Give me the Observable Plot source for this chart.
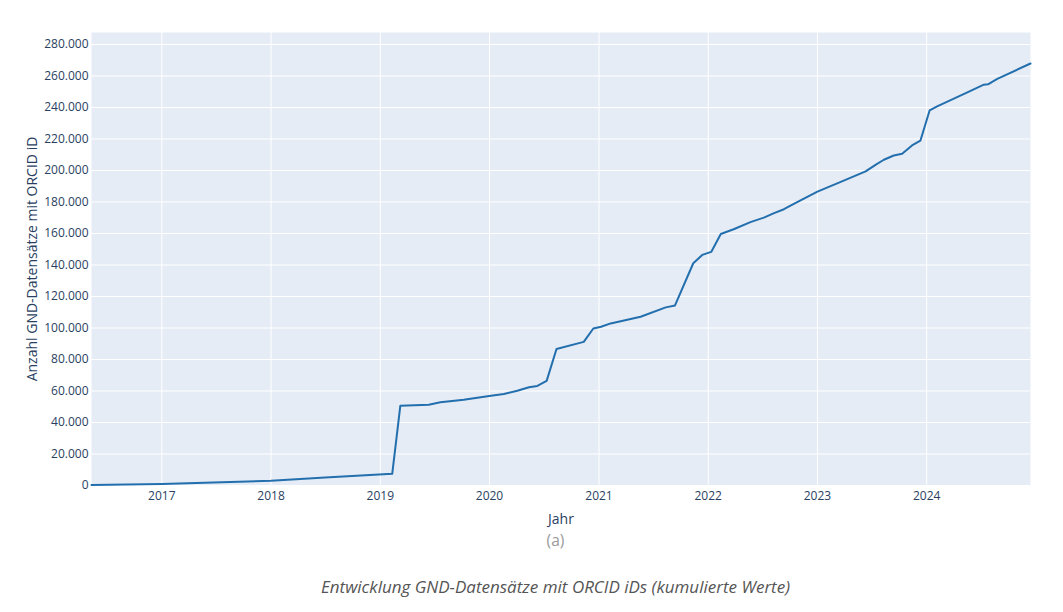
<!DOCTYPE html>
<html>
<head>
<meta charset="utf-8">
<script src="https://cdn.jsdelivr.net/npm/d3@7"></script>
<script src="https://cdn.jsdelivr.net/npm/@observablehq/plot@0.6"></script>
<style>
  html, body { margin: 0; padding: 0; background: #fff; }
  body { width: 1063px; font-family: "Open Sans", sans-serif; }
  .sub { width: 1063px; box-sizing: border-box; padding-left: 48px; text-align: center; }
  #tag { color: #9a9a9a; font-size: 15.5px; line-height: 20px; margin-top: 0px; }
  #caption { color: #555; font-size: 17px; font-style: italic; line-height: 22px; margin-top: 26px; }
</style>
</head>
<body>
<div id="chart"></div>
<div id="tag" class="sub">(a)</div>
<div id="caption" class="sub">Entwicklung GND-Datensätze mit ORCID iDs (kumulierte Werte)</div>
<script>
// Dates of the observations (cumulative counts)
const dates = [
  "2016-05-11","2017-01-01","2018-01-01","2018-07-01","2019-02-10","2019-03-09",
  "2019-06-12","2019-07-21","2019-10-07","2019-12-31","2020-02-18","2020-04-03",
  "2020-05-12","2020-06-09","2020-07-10","2020-08-12","2020-11-11","2020-12-13",
  "2021-01-08","2021-02-09","2021-05-20","2021-08-12","2021-09-12","2021-11-12",
  "2021-12-12","2022-01-11","2022-02-12","2022-03-27","2022-05-22","2022-07-06",
  "2022-08-09","2022-09-11","2022-10-14","2023-01-01","2023-03-18","2023-06-11",
  "2023-07-14","2023-08-11","2023-09-13","2023-10-11","2023-11-13","2023-12-11",
  "2024-01-11","2024-02-05","2024-05-16","2024-07-10","2024-07-24","2024-08-24",
  "2024-12-13"
];
// Cumulative number of GND records with ORCID iD
const counts = [
  300, 1000, 3000, 5100, 7400, 50600,
  51300, 52800, 54500, 56800, 58100, 60200,
  62400, 63200, 66400, 86700, 91200, 99700,
  100800, 102900, 107100, 113100, 114300, 141100,
  146400, 148300, 159700, 162700, 167200, 170100,
  172900, 175400, 178800, 186600, 192600, 199400,
  203600, 206800, 209500, 210600, 215900, 218900,
  238200, 240700, 249600, 254500, 254700, 258200,
  267900
];
const yearTicks = [2017, 2018, 2019, 2020, 2021, 2022, 2023, 2024];
const yTicks = [0, 20000, 40000, 60000, 80000, 100000, 120000, 140000, 160000, 180000, 200000, 220000, 240000, 260000, 280000];
const xLabel = "Jahr";
const yLabel = "Anzahl GND-Datensätze mit ORCID iD";

const data = dates.map((d, i) => ({date: new Date(d + "T00:00:00Z"), value: counts[i]}));
const de = d3.formatLocale({decimal: ",", thousands: ".", grouping: [3], currency: ["", " €"]});
const fmt = de.format(",d");
const textColor = "#2a3f5f";
const yearDates = yearTicks.map(y => new Date(Date.UTC(y, 0, 1)));

const chart = Plot.plot({
  width: 1063,
  height: 530,
  marginLeft: 91,
  marginRight: 33,
  marginTop: 32,
  marginBottom: 45,
  style: {fontFamily: "'Open Sans', sans-serif", fontSize: "12px", color: textColor, background: "#fff"},
  x: {type: "utc", domain: [data[0].date, data[data.length - 1].date]},
  y: {domain: [0, 287600]},
  marks: [
    Plot.frame({fill: "#e5ecf6", stroke: null}),
    Plot.gridX(yearDates, {stroke: "#fff", strokeOpacity: 1, strokeWidth: 1}),
    Plot.gridY(yTicks, {stroke: "#fff", strokeOpacity: 1, strokeWidth: 1}),
    Plot.axisX(yearDates, {tickSize: 0, tickPadding: 6, tickFormat: d => String(d.getUTCFullYear()), fill: textColor, fontSize: 12, label: null}),
    Plot.axisY(yTicks, {tickSize: 0, tickPadding: 3, tickFormat: fmt, fill: textColor, fontSize: 12, label: null}),
    Plot.line(data, {x: "date", y: "value", stroke: "#236fae", strokeWidth: 2}),
    Plot.text([xLabel], {frameAnchor: "bottom", dy: 34, fill: textColor, fontSize: 14, lineAnchor: "middle"}),
    Plot.text([yLabel], {frameAnchor: "left", dx: -59, rotate: -90, fill: textColor, fontSize: 14, textAnchor: "middle", lineAnchor: "middle"})
  ]
});
document.getElementById("chart").appendChild(chart);
</script>
</body>
</html>
